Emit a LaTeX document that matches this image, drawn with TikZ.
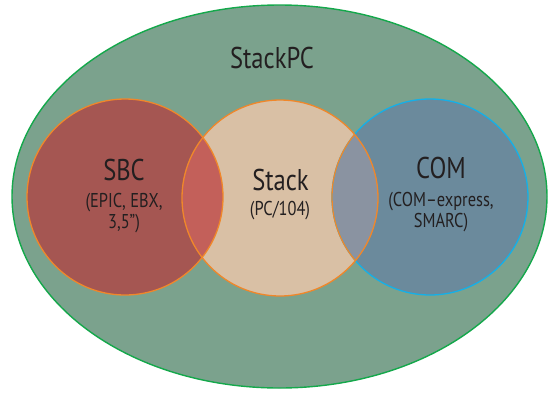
\documentclass[tikz,border=0pt]{standalone}
\usepackage{fontspec}
\setmainfont{PT Sans}[FakeStretch=0.82]
\definecolor{bgfill}{HTML}{7BA28D}
\definecolor{bgline}{HTML}{14A84B}
\definecolor{sbcfill}{HTML}{A55652}
\definecolor{stackfill}{HTML}{D9C0A5}
\definecolor{comfill}{HTML}{6B8A9C}
\definecolor{lensA}{HTML}{C3605A}
\definecolor{lensB}{HTML}{8A93A1}
\definecolor{orangeline}{HTML}{F0872A}
\definecolor{cyanline}{HTML}{14B0E8}
\definecolor{txt}{HTML}{231F20}
\tikzset{
  title/.style={text=txt, font=\fontsize{30}{30}\selectfont, anchor=base, inner sep=0pt},
  sub/.style={text=txt, font=\fontsize{20}{21}\selectfont, anchor=base, align=center, inner sep=0pt},
}
\begin{document}
\begin{tikzpicture}[x=1pt,y=-1pt]
\useasboundingbox (0,0) rectangle (552,392);
\coordinate (cS) at (125,197);
\coordinate (cT) at (280,198);
\coordinate (cC) at (430,197);
% outer ellipse
\path[fill=bgfill, draw=bgline, line width=1.4pt] (279.5,196.5) ellipse [x radius=267.5, y radius=191.5];
% circles
\path[fill=sbcfill] (cS) circle [radius=98];
\path[fill=comfill] (cC) circle [radius=98];
\path[fill=stackfill] (cT) circle [radius=98];
\begin{scope}
  \clip (cS) circle [radius=98];
  \path[fill=lensA] (cT) circle [radius=98];
\end{scope}
\begin{scope}
  \clip (cC) circle [radius=98];
  \path[fill=lensB] (cT) circle [radius=98];
\end{scope}
\draw[cyanline, line width=1.3pt] (cC) circle [radius=98];
\draw[orangeline, line width=1.3pt] (cS) circle [radius=98];
\draw[orangeline, line width=1.3pt] (cT) circle [radius=98];
\begin{scope}
  \clip (cT) circle [radius=98];
  \draw[orangeline, line width=1.3pt] (cC) circle [radius=98];
\end{scope}
% texts
\node[title] (tPC) at (272,68) {StackPC};
\node[title] (tSBC) at (124,180) {SBC};
\node[sub] (sSBC) at (124,228) {(EPIC, EBX,\\3,5{\char"22})};
\node[title] (tStack) at (280.5,190) {Stack};
\node[sub] (sStack) at (280,215) {(PC/104)};
\node[title] (tCOM) at (441,178) {COM};
\node[sub] (sCOM) at (441,227) {(COM–express,\\SMARC)};
\end{tikzpicture}
\end{document}
